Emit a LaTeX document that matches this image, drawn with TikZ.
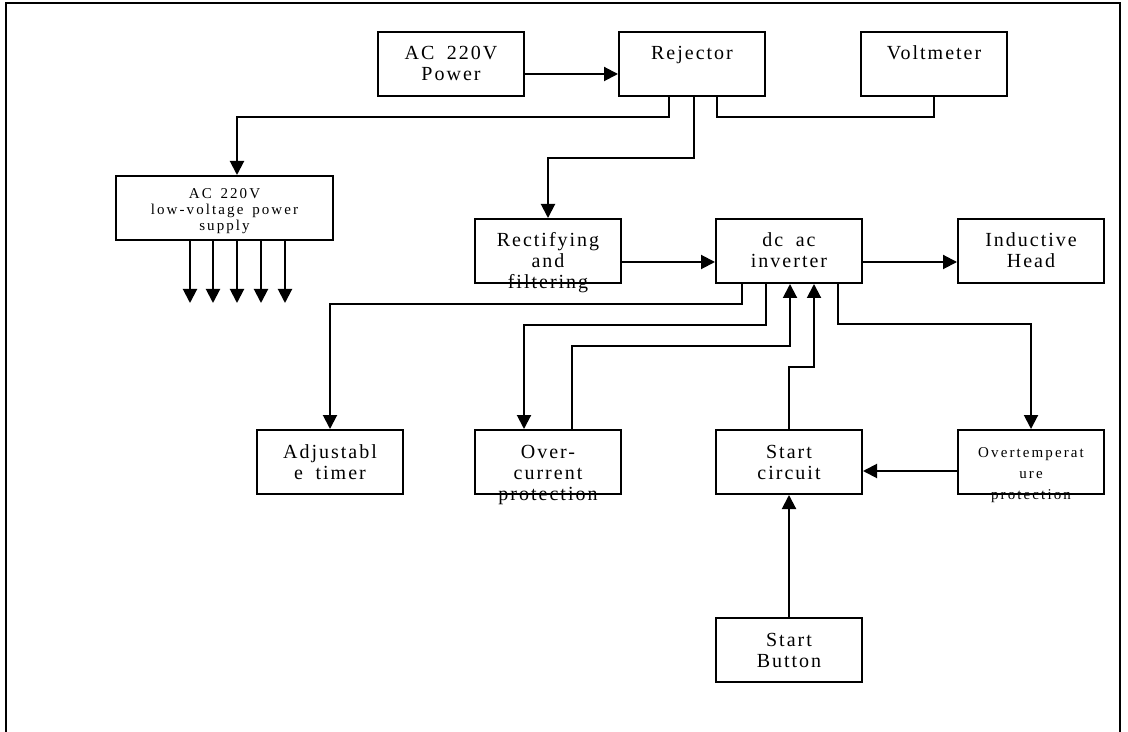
\documentclass[tikz,border=0pt]{standalone}
\usepackage{fontspec}
\setmainfont{Liberation Serif}
\newfontfamily\blockfont[LetterSpace=10,WordSpace=1.8]{Liberation Serif}
\newfontfamily\smallfont[LetterSpace=14,WordSpace=1.5]{Liberation Serif}
\usetikzlibrary{positioning}
\usetikzlibrary{arrows.meta}
\newcommand{\boxlines}[1]{\begin{tabular}[t]{@{}c@{}}#1\end{tabular}}

\begin{document}
\begin{tikzpicture}[
  x=0.5pt, y=-0.5pt,
  block/.style={draw, line width=1pt, inner sep=0pt, minimum width=73pt,
    text height=14pt, text depth=18pt, font=\blockfont\fontsize{10pt}{10.5pt}\selectfont},
  smallblock/.style={block, font=\smallfont\fontsize{7.5pt}{10.5pt}\selectfont,
    text height=13.5pt, text depth=18.5pt},
  supplyblock/.style={block, minimum width=108.5pt, font=\smallfont\fontsize{7.5pt}{8pt}\selectfont,
    text height=11.5pt, text depth=20.5pt},
  arrow/.style={-{Triangle[length=7pt,width=7pt]}, line width=1pt},
  wire/.style={line width=0.7pt}
]
\useasboundingbox (0,0) rectangle (1128,732);

% frame
\draw[line width=1pt] (6,732) -- (6,3) -- (1120,3) -- (1120,732);

% top row
\node[block] (rej) at (692,64) {\boxlines{Rejector}};
\node[block, left=46.5pt of rej] (acp) {\boxlines{AC 220V\\Power}};
\node[block, right=47pt of rej] (volt) {\boxlines{Voltmeter}};
\node[supplyblock] (lvps) at (224.5,208) {\boxlines{AC 220V\\low-voltage power\\supply}};

% middle row
\node[block] (inv) at (789,251) {\boxlines{dc ac\\inverter}};
\node[block, left=46.5pt of inv] (rect) {\boxlines{Rectifying\\and\\filtering}};
\node[block, right=47pt of inv] (head) {\boxlines{Inductive\\Head}};

% bottom rows
\node[block, below=72.5pt of inv] (sc) {\boxlines{Start\\circuit}};
\node[block, below=72.5pt of rect] (oc) {\boxlines{Over-\\current\\protection}};
\node[smallblock, below=72.5pt of head] (ot) {\boxlines{Overtemperat\\ure\\protection}};
\node[block, left=35pt of oc] (timer) {\boxlines{Adjustabl\\e timer}};
\node[block, below=61pt of sc] (sb) {\boxlines{Start\\Button}};

% connectors
\draw[arrow] ([yshift=-5pt]acp.east) -- ([yshift=-5pt]rej.west);
\draw[arrow] ([xshift=-11.5pt]rej.south) -- ++(0,20) -| ([xshift=6.25pt]lvps.north);
\draw[arrow] ([xshift=1pt]rej.south) -- ++(0,61) -| (rect.north);
\draw[wire] ([xshift=12.5pt]rej.south) -- ++(0,20) -| (volt.south);
\foreach \dx in {-17.25,-5.75,6.25,18.25,30.25}
  \draw[arrow] ([xshift=\dx pt]lvps.south) -- ++(0,62);
\draw[arrow] ([yshift=-5.5pt]rect.east) -- ([yshift=-5.5pt]inv.west);
\draw[arrow] ([yshift=-5.5pt]inv.east) -- ([yshift=-5.5pt]head.west);
\draw[arrow] ([xshift=-23.5pt]inv.south) -- ++(0,20) -| (timer.north);
\draw[arrow] ([xshift=-11.5pt]inv.south) -- ++(0,41) -| ([xshift=-12pt]oc.north);
\draw[arrow] ([xshift=12pt]oc.north) -- ++(0,-83) -| ([xshift=0.5pt]inv.south);
\draw[arrow] (sc.north) -- ++(0,-62) -| ([xshift=12.5pt]inv.south);
\draw[arrow] ([xshift=24.5pt]inv.south) -- ++(0,40) -| (ot.north);
\draw[arrow] ([yshift=-4.5pt]ot.west) -- ([yshift=-4.5pt]sc.east);
\draw[arrow] (sb) -- (sc);

\end{tikzpicture}
\end{document}
